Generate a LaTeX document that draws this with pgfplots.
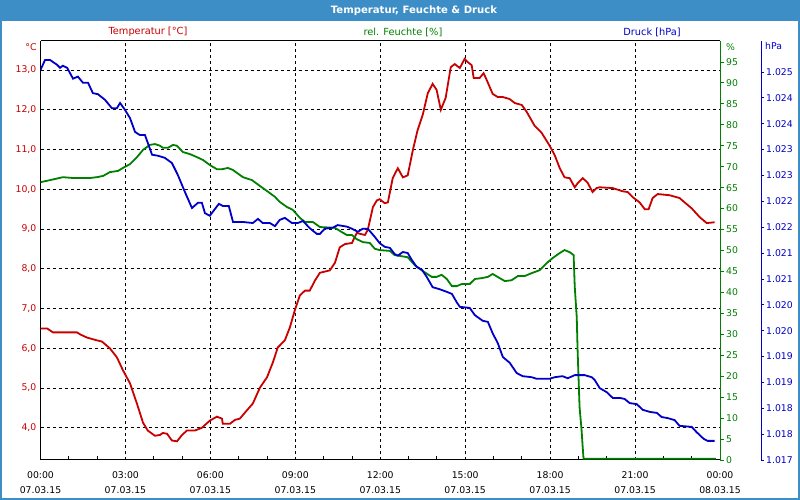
\documentclass[border=0pt]{standalone}
\usepackage{fontspec}
\setmainfont{DejaVu Sans}
\usepackage{pgfplots}
\pgfplotsset{compat=1.18}
\definecolor{tred}{HTML}{C80000}
\definecolor{hgreen}{HTML}{008000}
\definecolor{pblue}{HTML}{0000C8}
\definecolor{barblue}{HTML}{3D8DC6}
\newcommand{\tf}{\fontsize{9.3}{15}\selectfont}
\newcommand{\lf}{\fontsize{9.8}{12}\selectfont}
\begin{document}
\begin{tikzpicture}[x=1pt,y=1pt]
\fill[white] (0,0) rectangle (800,500);
\useasboundingbox (0,0) rectangle (800,500);
\fill[barblue] (0,479) rectangle (800,500);
\draw[barblue, line width=2pt] (1,1) rectangle (799,499);
\node[white, font=\fontsize{10.1}{12}\selectfont\bfseries] at (414,489.5) {Temperatur, Feuchte \& Druck};
\node[tred, font=\lf] at (148,468) {Temperatur [°C]};
\node[hgreen, font=\lf] at (403,468) {rel. Feuchte [\%]};
\node[pblue, font=\lf] at (652,468) {Druck [hPa]};
\node[tred, font=\tf, anchor=east, inner sep=0pt] at (36.7,453) {°C};
\node[hgreen, font=\tf, anchor=west, inner sep=0pt] at (726,453) {\%};
\node[pblue, font=\tf, anchor=west, inner sep=0pt] at (765,454) {hPa};

\begin{axis}[
  at={(40.5pt,40pt)}, anchor=south west, scale only axis,
  width=679.5pt, height=419pt,
  xmin=0, xmax=24, ymin=3.19, ymax=13.73,
  axis x line*=bottom, axis y line*=left,
  axis line style={black, line width=1pt, -},
  xtick={0,3,...,24}, minor xtick={1,2,4,5,7,8,10,11,13,14,16,17,19,20,22,23},
  xticklabels={{00:00\\07.03.15},{03:00\\07.03.15},{06:00\\07.03.15},{09:00\\07.03.15},{12:00\\07.03.15},{15:00\\07.03.15},{18:00\\07.03.15},{21:00\\07.03.15},{00:00\\08.03.15}},
  xticklabel style={align=center, font=\tf, text=black, inner sep=0pt, yshift=-11pt},
  ytick={4,5,...,13},
  yticklabels={{4,0},{5,0},{6,0},{7,0},{8,0},{9,0},{10,0},{11,0},{12,0},{13,0}},
  yticklabel style={text=tred, font=\tf, inner sep=0pt, xshift=-4pt},
  major tick length=0pt, minor tick length=4pt, tick align=inside,
  tick style={black, line width=0.8pt},
  grid=major, major grid style={black, dash pattern=on 3pt off 3pt, line width=0.8pt},
  minor grid style={draw=none},
  /pgf/number format/assume math mode=true,
]
\addplot[tred, line width=1.8pt] coordinates {
(0.00,6.5)(0.23,6.5)(0.44,6.4)(1.29,6.4)(1.40,6.35)(1.64,6.27)(1.99,6.2)(2.17,6.17)(2.45,6.0)(2.70,5.77)
(2.91,5.45)(3.16,5.12)(3.41,4.6)(3.62,4.13)(3.79,3.93)(4.04,3.8)(4.22,3.82)(4.32,3.87)(4.47,3.85)(4.64,3.68)
(4.82,3.66)(5.00,3.82)(5.17,3.93)(5.45,3.93)(5.70,4.0)(5.98,4.18)(6.23,4.28)(6.41,4.23)(6.44,4.1)(6.69,4.1)
(6.87,4.2)(7.04,4.23)(7.29,4.44)(7.50,4.61)(7.75,5.01)(8.00,5.27)(8.21,5.65)(8.38,6.02)(8.63,6.2)(8.81,6.53)
(8.98,6.95)(9.16,7.33)(9.34,7.45)(9.51,7.45)(9.69,7.7)(9.87,7.9)(10.22,7.96)(10.40,8.15)(10.57,8.54)(10.75,8.62)
(11.00,8.65)(11.17,8.9)(11.46,8.85)(11.56,8.98)(11.74,9.55)(11.88,9.72)(11.98,9.75)(12.16,9.65)(12.27,9.67)(12.44,10.28)
(12.62,10.53)(12.80,10.3)(12.97,10.35)(13.15,10.98)(13.32,11.49)(13.50,11.87)(13.68,12.42)(13.85,12.65)(13.99,12.5)(14.14,12.0)
(14.31,12.3)(14.49,13.07)(14.63,13.15)(14.81,13.05)(14.98,13.28)(15.09,13.2)(15.23,13.12)(15.30,12.8)(15.51,12.8)(15.65,12.92)
(15.76,12.75)(15.97,12.4)(16.15,12.32)(16.33,12.32)(16.57,12.27)(16.75,12.17)(17.00,12.12)(17.17,11.95)(17.45,11.6)(17.70,11.42)
(17.98,11.1)(18.16,10.86)(18.34,10.53)(18.51,10.3)(18.69,10.28)(18.87,10.05)(18.97,10.15)(19.15,10.28)(19.32,10.17)(19.50,9.93)
(19.64,10.03)(19.75,10.05)(20.21,10.03)(20.56,9.95)(20.74,9.93)(20.92,9.8)(21.16,9.67)(21.34,9.5)(21.48,9.5)(21.62,9.78)
(21.80,9.88)(22.22,9.85)(22.57,9.78)(22.75,9.67)(23.00,9.52)(23.28,9.3)(23.53,9.15)(23.81,9.17)
};
\end{axis}
\draw[black, line width=1pt] (40.5,459) -- (720,459);

\begin{axis}[
  at={(40.5pt,40pt)}, anchor=south west, scale only axis,
  width=679.5pt, height=419pt,
  xmin=0, xmax=24, ymin=0, ymax=100,
  axis x line=none, axis y line*=right,
  axis line style={hgreen, line width=1pt, -},
  ytick={0,5,...,95},
  yticklabel style={text=hgreen, font=\tf, inner sep=0pt, xshift=2pt},
  major tick length=4pt, tick align=outside, tick style={hgreen, line width=0.8pt},
  /pgf/number format/assume math mode=true,
]
\addplot[hgreen, line width=1.8pt] coordinates {
(0.00,66.3)(0.34,66.8)(0.79,67.5)(1.15,67.3)(1.75,67.3)(1.99,67.5)(2.21,67.8)(2.45,68.7)(2.74,69.0)(2.91,69.7)
(3.16,70.6)(3.41,72.3)(3.62,74.0)(3.86,75.2)(4.04,75.4)(4.22,75.0)(4.32,74.5)(4.50,74.5)(4.68,75.2)(4.82,75.0)
(5.03,73.5)(5.28,73.0)(5.52,72.3)(5.74,71.6)(5.98,70.4)(6.23,69.4)(6.41,69.4)(6.62,69.7)(6.80,69.2)(7.15,67.5)
(7.47,66.8)(7.75,65.4)(8.04,64.0)(8.28,62.8)(8.45,61.6)(8.70,60.4)(8.91,59.7)(9.16,57.8)(9.34,56.8)(9.62,56.8)
(9.87,55.6)(10.40,55.4)(10.64,54.4)(10.82,53.7)(11.00,53.7)(11.17,52.7)(11.39,52.0)(11.63,51.8)(11.81,50.4)(11.98,50.1)
(12.34,49.9)(12.51,48.9)(12.97,48.4)(13.22,46.5)(13.50,45.1)(13.82,43.7)(13.99,43.7)(14.17,44.2)(14.35,43.2)(14.53,41.5)
(14.70,41.5)(14.88,42.0)(15.16,42.0)(15.34,43.2)(15.58,43.4)(15.80,43.7)(15.97,44.4)(16.22,43.4)(16.40,42.7)(16.64,42.9)
(16.86,43.9)(17.10,43.9)(17.35,44.6)(17.63,45.3)(17.88,47.0)(18.09,48.2)(18.34,49.4)(18.51,50.1)(18.69,49.6)(18.83,48.9)
(18.87,41.3)(18.94,34.1)(18.97,26.3)(19.01,18.4)(19.04,12.6)(19.11,7.2)(19.15,3.1)(19.18,0.3)(23.85,0.3)
};
\end{axis}

\begin{axis}[
  at={(40.5pt,40pt)}, anchor=south west, scale only axis,
  width=720.5pt, height=419pt,
  xmin=0, xmax=25.448, ymin=1017, ymax=1025.098,
  axis x line=none, axis y line*=right,
  axis line style={pblue, line width=1pt, -},
  ytick={1017,1017.5,1018,1018.5,1019,1019.5,1020,1020.5,1021,1021.5,1022,1022.5,1023,1023.5,1024,1024.5},
  yticklabels={1.017,1.018,1.018,1.019,1.019,1.020,1.020,1.021,1.021,1.022,1.022,1.023,1.023,1.024,1.024,1.025},
  yticklabel style={text=pblue, font=\tf, inner sep=0pt, xshift=2pt},
  major tick length=3pt, tick align=outside, tick style={pblue, line width=0.8pt},
  /pgf/number format/assume math mode=true,
]
\addplot[pblue, line width=1.8pt] coordinates {
(0.00,1024.54)(0.16,1024.73)(0.34,1024.73)(0.58,1024.64)(0.69,1024.58)(0.79,1024.62)(0.94,1024.58)(1.15,1024.37)(1.32,1024.41)(1.50,1024.29)
(1.68,1024.29)(1.85,1024.09)(2.03,1024.07)(2.28,1023.96)(2.52,1023.80)(2.70,1023.80)(2.81,1023.90)(2.98,1023.77)(3.16,1023.61)(3.34,1023.34)
(3.51,1023.28)(3.69,1023.28)(3.94,1022.90)(4.15,1022.88)(4.39,1022.84)(4.64,1022.74)(4.85,1022.51)(5.10,1022.18)(5.35,1021.87)(5.56,1021.97)
(5.70,1021.97)(5.81,1021.77)(5.98,1021.72)(6.16,1021.85)(6.30,1021.95)(6.44,1021.91)(6.65,1021.91)(6.80,1021.60)(7.15,1021.60)(7.50,1021.58)
(7.68,1021.66)(7.85,1021.58)(8.10,1021.58)(8.28,1021.52)(8.45,1021.64)(8.63,1021.68)(8.88,1021.58)(9.09,1021.58)(9.27,1021.62)(9.51,1021.48)
(9.76,1021.37)(9.87,1021.37)(10.04,1021.47)(10.32,1021.49)(10.50,1021.54)(10.82,1021.51)(11.00,1021.47)(11.21,1021.41)(11.38,1021.47)(11.56,1021.47)
(11.81,1021.31)(11.98,1021.19)(12.16,1021.12)(12.34,1021.10)(12.51,1020.98)(12.62,1020.95)(12.80,1021.02)(12.97,1021.00)(13.11,1020.87)(13.29,1020.73)
(13.47,1020.68)(13.64,1020.54)(13.85,1020.34)(14.10,1020.30)(14.35,1020.25)(14.53,1020.21)(14.70,1020.05)(14.81,1019.96)(15.16,1019.94)(15.34,1019.80)
(15.62,1019.69)(15.80,1019.67)(15.97,1019.45)(16.15,1019.26)(16.33,1018.99)(16.57,1018.88)(16.82,1018.68)(17.03,1018.62)(17.35,1018.60)(17.52,1018.57)
(17.98,1018.57)(18.16,1018.60)(18.44,1018.62)(18.62,1018.58)(18.87,1018.64)(19.22,1018.64)(19.47,1018.60)(19.57,1018.55)(19.75,1018.39)(20.00,1018.31)
(20.21,1018.20)(20.46,1018.20)(20.63,1018.18)(20.81,1018.10)(21.06,1018.08)(21.27,1017.97)(21.52,1017.93)(21.77,1017.91)(21.94,1017.83)(22.15,1017.81)
(22.40,1017.77)(22.57,1017.66)(23.00,1017.64)(23.17,1017.54)(23.42,1017.41)(23.56,1017.37)(23.81,1017.37)
};
\end{axis}
\end{tikzpicture}
\end{document}
